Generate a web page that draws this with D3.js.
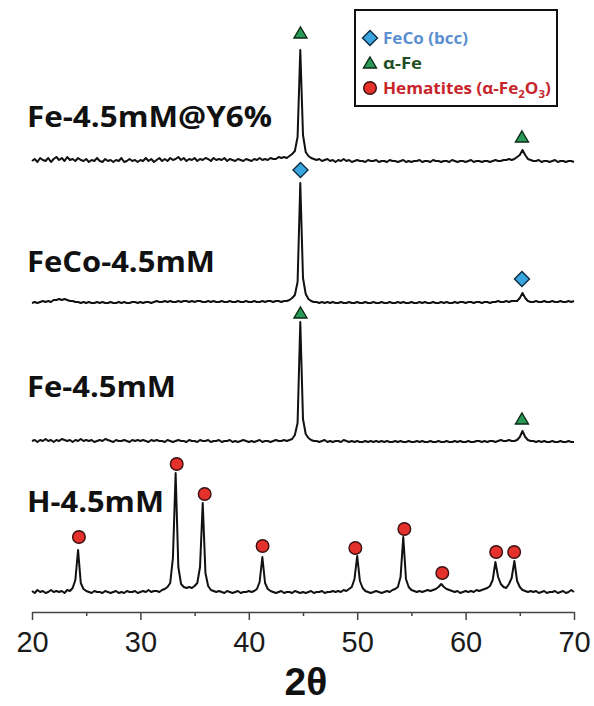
<!DOCTYPE html>
<html>
<head>
<meta charset="utf-8">
<script src="https://cdn.jsdelivr.net/npm/d3@7/dist/d3.min.js"></script>
<style>
  html, body { margin: 0; padding: 0; background: #fff; }
  svg { display: block; }
</style>
</head>
<body>
<svg id="chart" width="594" height="706"></svg>
<script>
// ---------------- DATA ----------------
// 2-theta sampling: 20 to 70 deg, step 0.25 (201 samples per pattern)
const twoThetaStart = 20, twoThetaStep = 0.25;
const xTicks = [20, 30, 40, 50, 60, 70];
const xMinorTicks = [25, 35, 45, 55, 65];

const sampleNames = ["H-4.5mM", "Fe-4.5mM", "FeCo-4.5mM", "Fe-4.5mM@Y6%"];
const sampleOffsets = [18, 169, 308, 449];   // vertical stacking offset (a.u.)

// intensities (a.u., above each pattern's own offset)
const intensityH = [
  3,1,4,2,3,1,2,4,2,3,
  2,3,1,4,3,6,14,44,11,5,
  3,2,1,3,2,2,1,3,2,1,
  2,3,1,2,1,3,2,2,3,1,
  2,3,2,4,2,3,3,2,4,5,
  7,11,36,121,27,10,7,6,7,6,
  8,11,27,91,21,8,4,3,2,3,
  2,1,3,2,1,2,3,1,2,2,
  3,2,3,5,12,37,11,5,3,2,
  1,2,3,1,2,2,1,3,2,1,
  2,1,2,3,1,2,2,3,1,2,
  2,3,2,3,2,4,3,5,7,15,
  38,13,6,3,2,1,2,3,2,1,
  2,3,2,4,5,7,17,57,15,7,
  4,3,2,3,2,3,4,3,4,5,
  7,10,7,5,4,3,2,3,1,2,
  3,2,3,2,4,3,4,5,6,8,
  14,32,17,10,7,6,10,16,33,13,
  7,4,3,2,3,2,3,1,2,3,
  1,2,2,3,1,2,3,1,2,4,
  2
];
const intensityFe = [
  2,3,1,3,2,4,2,3,1,3,
  2,4,3,2,3,1,3,2,4,2,
  3,2,3,1,2,3,2,4,3,2,
  1,3,2,2,3,2,1,3,2,3,
  2,3,2,1,3,2,3,2,2,1,
  3,2,1,2,3,2,2,1,3,2,
  2,1,3,2,2,3,1,2,2,3,
  1,2,2,3,1,2,1,2,3,2,
  1,2,1,2,3,1,2,2,1,2,
  3,2,2,3,2,3,4,8,20,121,
  24,9,5,3,2,2,1,2,3,1,
  2,1,2,2,1,3,2,1,2,1,
  2,1,1,2,1,2,1,2,1,2,
  1,2,1,1,2,1,2,1,1,2,
  1,1,2,1,2,1,1,2,1,1,
  2,1,1,2,1,1,2,1,2,1,
  1,2,1,1,2,2,1,2,1,2,
  2,1,2,3,2,2,3,2,2,3,
  6,12,6,3,2,2,1,2,1,2,
  1,1,2,1,1,2,1,1,2,1,
  1
];
const intensityFeCo = [
  1,2,1,2,3,2,3,2,4,4,
  5,4,5,4,3,3,2,2,1,2,
  1,2,1,1,2,1,2,1,1,2,
  1,1,2,1,2,1,1,2,2,1,
  2,1,2,2,1,2,3,2,2,3,
  2,3,2,2,3,2,3,3,2,3,
  2,3,3,2,2,3,2,3,2,2,
  3,2,2,3,2,2,3,2,2,3,
  2,2,3,2,2,3,2,3,3,2,
  3,3,2,3,3,4,6,9,22,121,
  26,10,5,3,2,2,1,2,1,2,
  1,2,1,1,2,1,1,2,1,1,
  2,1,1,2,1,1,2,1,1,2,
  1,1,2,1,1,2,1,2,1,1,
  2,1,1,2,1,2,1,1,2,1,
  1,2,1,2,1,1,2,1,2,2,
  1,2,2,1,2,2,1,2,2,1,
  2,2,3,2,2,3,2,3,3,3,
  6,11,6,3,2,2,3,2,2,3,
  2,2,3,2,2,3,2,2,3,2,
  3
];
const intensityFeY = [
  2,4,1,5,3,2,5,1,4,6,
  3,5,2,6,3,4,2,5,3,2,
  4,1,3,2,5,2,1,4,2,3,
  1,3,2,5,1,2,4,2,3,1,
  3,2,5,2,4,1,3,5,2,4,
  2,5,3,4,6,3,5,2,4,3,
  5,2,4,3,5,4,2,5,3,4,
  3,5,2,4,3,2,4,3,2,4,
  3,2,4,3,5,3,4,3,5,4,
  4,6,5,6,5,7,9,12,26,113,
  28,11,7,5,4,3,4,2,3,4,
  2,3,1,3,2,4,2,3,1,2,
  3,2,2,1,3,2,2,3,1,2,
  2,1,3,2,2,1,2,3,1,2,
  1,2,2,3,1,2,2,1,3,2,
  2,1,2,2,1,3,2,1,2,2,
  1,2,3,1,2,2,1,2,2,1,
  2,3,2,2,3,3,4,3,4,6,
  8,13,8,4,3,2,2,3,1,2,
  2,1,2,3,1,2,2,1,2,2,
  1
];
const patterns = [intensityH, intensityFe, intensityFeCo, intensityFeY];

// peak markers (2-theta, marker level in a.u. on the stacked scale)
const hematite2theta = [24.33, 33.35, 35.93, 41.27, 49.83, 54.35, 57.85, 62.82, 64.48];
const hematiteLevel  = [75, 148, 118, 66, 64, 83, 39, 60, 60];
const alphaFe2theta  = [44.77, 65.2, 44.77, 65.2];
const alphaFeLevel   = [579, 475, 299, 193];
const feCo2theta     = [44.77, 65.2];
const feCoLevel      = [442, 333];

const legendLabels = ["FeCo (bcc)", "α-Fe", "Hematites (α-Fe₂O₃)"];
const xAxisTitle = "2θ";

// ---------------- DRAW ----------------
const svg = d3.select("#chart");
const x = d3.scaleLinear().domain([20, 70]).range([32, 574]);
const y = d3.scaleLinear().domain([0, 600]).range([612, 12]);

const colors = {
  diamond: "#3aa6df", triangle: "#2a9a58", circle: "#e4312b",
  feCoText: "#5a8fd0", alphaText: "#1f4f22", hemText: "#c8242b"
};

// patterns
const line = d3.line()
  .x((d, i) => x(twoThetaStart + i * twoThetaStep))
  .y(d => d);
patterns.forEach((arr, k) => {
  svg.append("path")
    .attr("d", line(arr.map(v => y(v + sampleOffsets[k]))))
    .attr("fill", "none")
    .attr("stroke", "#111")
    .attr("stroke-width", 2)
    .attr("stroke-linejoin", "round");
});

// sample labels
const labelBaselines = [512, 397, 272, 127];
const labelWidths = [137, 149, 188, 245];
sampleNames.forEach((name, k) => {
  svg.append("text")
    .attr("x", 27).attr("y", labelBaselines[k])
    .attr("font-family", "'Open Sans', sans-serif")
    .attr("font-weight", 700)
    .attr("font-size", 29)
    .attr("fill", "#111")
    .attr("textLength", labelWidths[k])
    .attr("lengthAdjust", "spacingAndGlyphs")
    .text(name);
});

// marker shapes
const diamondPath = "M0,-7.5L7.5,0L0,7.5L-7.5,0Z";
const trianglePath = "M0,-6L6.5,5L-6.5,5Z";
function drawMarker(g, shape, cx, cy) {
  if (shape === "circle") {
    g.append("circle").attr("cx", cx).attr("cy", cy).attr("r", 6.3)
      .attr("fill", colors.circle).attr("stroke", "#3a1010").attr("stroke-width", 1.4);
  } else if (shape === "diamond") {
    g.append("path").attr("d", diamondPath).attr("transform", `translate(${cx},${cy})`)
      .attr("fill", colors.diamond).attr("stroke", "#0d2a3f").attr("stroke-width", 1.4);
  } else {
    g.append("path").attr("d", trianglePath).attr("transform", `translate(${cx},${cy})`)
      .attr("fill", colors.triangle).attr("stroke", "#0c2a14").attr("stroke-width", 1.4);
  }
}
const mg = svg.append("g");
hematite2theta.forEach((t, i) => drawMarker(mg, "circle", x(t), y(hematiteLevel[i])));
alphaFe2theta.forEach((t, i) => drawMarker(mg, "triangle", x(t), y(alphaFeLevel[i])));
feCo2theta.forEach((t, i) => drawMarker(mg, "diamond", x(t), y(feCoLevel[i])));

// x axis
const axisY = y(0);
const axis = d3.axisBottom(x).tickValues(xTicks).tickSize(8).tickSizeOuter(0)
  .tickPadding(11).tickFormat(d3.format("d"));
const ag = svg.append("g").attr("transform", `translate(0,${axisY})`).call(axis);
ag.select(".domain").attr("stroke", "#444").attr("stroke-width", 1.5);
ag.selectAll(".tick line").attr("stroke", "#444").attr("stroke-width", 1.5);
ag.selectAll(".tick text")
  .attr("font-family", "'Liberation Sans', Arial, sans-serif")
  .attr("font-size", 29).attr("fill", "#1a1a1a");
const minor = d3.axisBottom(x).tickValues(xMinorTicks).tickSize(4).tickSizeOuter(0).tickFormat("");
const mgAxis = svg.append("g").attr("transform", `translate(0,${axisY})`).call(minor);
mgAxis.select(".domain").remove();
mgAxis.selectAll(".tick line").attr("stroke", "#444").attr("stroke-width", 1.5);

svg.append("text")
  .attr("x", 306).attr("y", 695)
  .attr("text-anchor", "middle")
  .attr("font-family", "'Liberation Sans', Arial, sans-serif")
  .attr("font-weight", 700).attr("font-size", 39).attr("fill", "#111")
  .text(xAxisTitle);

// legend
const lg = svg.append("g");
lg.append("rect").attr("x", 355).attr("y", 10).attr("width", 202).attr("height", 96)
  .attr("fill", "#fff").attr("stroke", "#111").attr("stroke-width", 2);
const legendShapes = ["diamond", "triangle", "circle"];
const legendColors = [colors.feCoText, colors.alphaText, colors.hemText];
const legendRowY = [38, 63, 88];
const legendWidths = [85, 39, 168];
legendLabels.forEach((lab, i) => {
  drawMarker(lg, legendShapes[i], 370, legendRowY[i]);
  const t = lg.append("text").attr("x", 383).attr("y", legendRowY[i] + 6)
    .attr("font-family", "'Open Sans', sans-serif").attr("font-weight", 700)
    .attr("font-size", 16.5).attr("fill", legendColors[i]);
  if (i === 2) {
    t.append("tspan").text("Hematites (α-Fe");
    t.append("tspan").attr("font-size", 11).attr("dy", 4).text("2");
    t.append("tspan").attr("dy", -4).text("O");
    t.append("tspan").attr("font-size", 11).attr("dy", 4).text("3");
    t.append("tspan").attr("dy", -4).text(")");
  } else {
    t.text(lab);
  }
  const w = t.node().getComputedTextLength();
  if (w > 0) {
    const s = legendWidths[i] / w;
    t.attr("transform", `translate(383,0) scale(${s},1) translate(-383,0)`);
  }
});
</script>
</body>
</html>
